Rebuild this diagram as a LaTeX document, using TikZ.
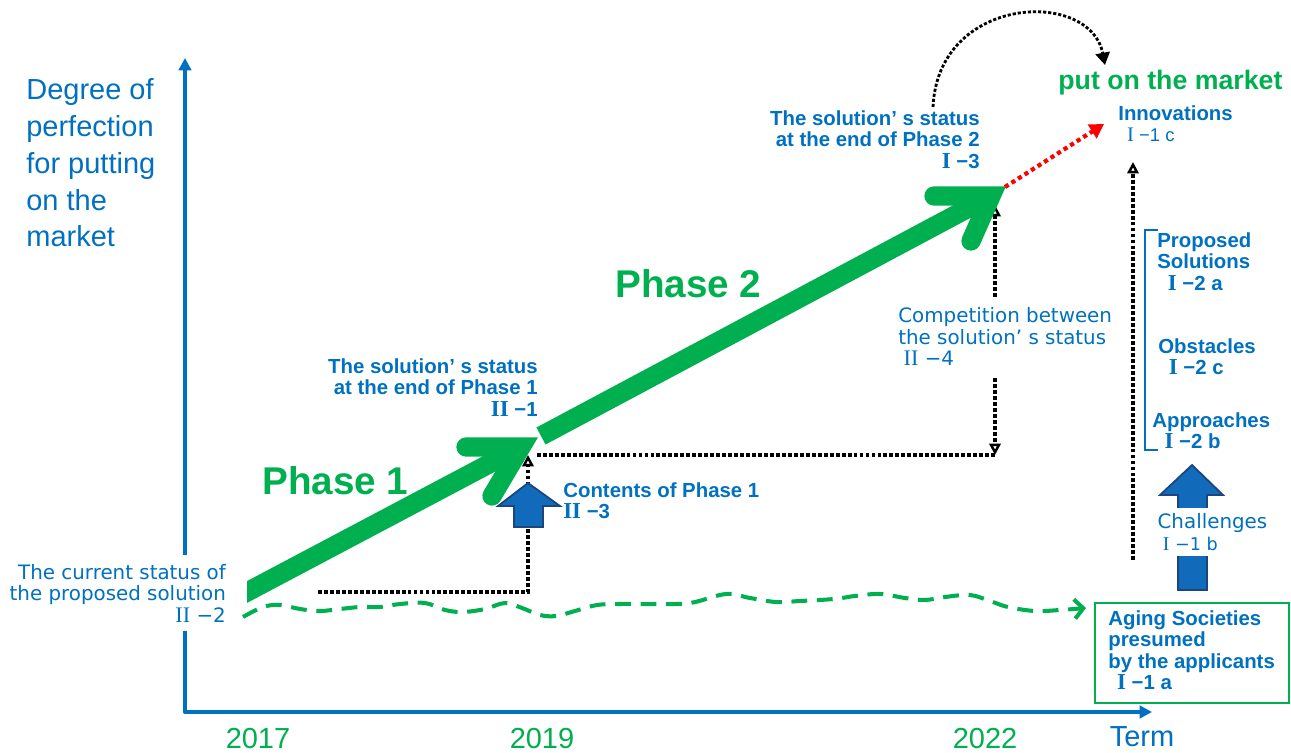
\documentclass[tikz,border=0pt]{standalone}
\usepackage{fontspec}
\setmainfont{Liberation Sans}
\newfontfamily\dvs{DejaVu Sans}
\newfontfamily\romf[Scale=1.12]{Liberation Serif}
\usetikzlibrary{arrows.meta}
\definecolor{cblue}{RGB}{0,112,192}
\definecolor{cgreen}{RGB}{0,176,80}
\definecolor{cfill}{RGB}{17,106,186}
\definecolor{cedge}{RGB}{25,70,125}
\newcommand\RI{{\romf I}}
\newcommand\RII{{\romf II}}
\begin{document}
\begin{tikzpicture}[x=0.02cm,y=-0.02cm,
  axis/.style={cblue, line width=2.4pt, line join=round},
  year/.style={text=cgreen, font=\fontsize{16.5}{18}\selectfont, inner sep=0pt},
  bl/.style={text=cblue, font=\bfseries\fontsize{11.6}{12.3}\selectfont, inner sep=0pt, align=left},
  rg/.style={text=cblue, font=\dvs\fontsize{11.3}{12.3}\selectfont, inner sep=0pt, align=left},
  phaselbl/.style={text=cgreen, font=\bfseries\fontsize{22}{24}\selectfont, inner sep=0pt},
  dots/.style={black, line width=1.9pt, dash pattern=on 2.2pt off 1.2pt},
  tipA/.style={-{Triangle[open,length=6.5pt,width=6.5pt,line width=1.4pt]}},
  wave/.style={cgreen, line width=2.3pt, dash pattern=on 9pt off 5.5pt, line cap=butt},
  shaft/.style={cgreen, line width=11pt},
  head/.style={cgreen, line width=11pt, line cap=round, line join=miter},
  reddots/.style={red, line width=2.4pt, dash pattern=on 2.4pt off 2pt, -{Triangle[length=8pt,width=9pt]}},
  blk/.style={fill=cfill, draw=cedge, line width=1pt, line join=miter}]
\useasboundingbox (0,0) rectangle (1291,753);

% axes
\coordinate (O) at (185,712);
\coordinate (ytop) at (185,58);
\coordinate (xend) at (1152,712);
\draw[axis, {Triangle[length=7pt,width=7pt]}-{Triangle[length=7pt,width=7pt]}] (ytop) -- (O) -- (xend);

\node[text=cblue, font=\fontsize{16.5}{21}\selectfont, inner sep=0pt, align=left, anchor=north west] (ylab) at (26,78)
  {Degree of\\perfection\\for putting\\on the\\market};

\node[year, anchor=base] (y2017) at (258,748) {2017};
\node[year, anchor=base] (y2019) at (542,748) {2019};
\node[year, anchor=base] (y2022) at (985,748) {2022};
\node[year, text=cblue, anchor=base] (term) at (1142,746) {Term};

% dotted connectors
\coordinate (a0) at (318,592);
\coordinate (a1) at (528,592);
\coordinate (a2) at (528,455);
\draw[dots, tipA] (a0) -- (a1) -- (a2);
\coordinate (b0) at (537,455);
\coordinate (b1) at (995,455);
\draw[dots] (b0) -- (b1);
\coordinate (c0) at (995,378);
\draw[dots, tipA] (c0) -- (b1);
\coordinate (d0) at (995,297);
\coordinate (d1) at (995,205);
\draw[dots, tipA] (d0) -- (d1);
\coordinate (e0) at (1133,560);
\coordinate (e1) at (1133,162);
\draw[dots, tipA] (e0) -- (e1);
\coordinate (f0) at (933,107);
\coordinate (f1) at (1105,65);
\draw[black, line width=1.6pt, dash pattern=on 1.8pt off 1.1pt, -{Triangle[length=7pt,width=8pt]}]
  (f0) .. controls (938,-5) and (1090,-12) .. (f1);

% green wavy dashed line
\draw[wave, -{Straight Barb[length=5pt,width=11pt]}] plot[smooth, tension=0.6] coordinates {
 (243,617) (263,607) (280,605) (300,609) (320,611) (340,609) (360,607) (380,607) (400,604)
 (425,603) (445,610) (463,612) (485,609) (505,603) (522,608) (540,615) (556,616) (575,611)
 (597,605) (620,604) (655,604) (690,603) (726,594) (750,598) (776,602) (800,601) (834,599)
 (855,596) (880,594) (905,598) (925,600) (945,597) (970,595) (990,601) (1008,607) (1035,611)
 (1060,610) (1086,608)};

% Phase 1 arrow
\coordinate (p1s) at (230,601);
\coordinate (p1v) at (521,447);
\coordinate (p1l) at (466,447);
\coordinate (p1d) at (492,496);
\begin{scope}
  \clip (247,0) rectangle (1291,753);
  \draw[shaft] (p1s) -- (p1v);
\end{scope}
\draw[head] (p1l) -- (p1v) -- (p1d);

% Phase 2 arrow
\coordinate (p2s) at (541,436);
\coordinate (p2v) at (991,196);
\coordinate (p2l) at (934,196);
\coordinate (p2d) at (971,241);
\draw[shaft] (p2s) -- (p2v);
\draw[head] (p2l) -- (p2v) -- (p2d);
\coordinate (p2tip) at (1005,187);
\coordinate (mk) at (1104,124);
\draw[reddots] (p2tip) -- (mk);

% blue block arrows
\draw[blk] (528,483) -- (560,506) -- (543,506) -- (543,527) -- (514,527) -- (514,506) -- (498,506) -- cycle;
\draw[blk] (1192,465) -- (1223,495) -- (1207,495) -- (1207,590) -- (1178,590) -- (1178,495) -- (1160,495) -- cycle;

% bracket and box
\draw[cblue, line width=1.1pt] (1158,230) -- (1145,230) -- (1145,450) -- (1158,450);
\draw[cgreen, line width=1.2pt] (1095,603) rectangle (1289,703);

% labels
\node[rg, align=right, fill=white, inner sep=5pt, anchor=north east] (cur) at (235,555)
  {The current status of\\the proposed solution\\\RII\ −2};
\node[bl, align=right, anchor=north east] (end1) at (538,358)
  {The solution’ s status\\at the end of Phase 1\\\RII\ −1};
\node[bl, anchor=north west] (cont) at (563,482) {Contents of Phase 1\\\RII\ −3};
\node[bl, align=right, anchor=north east] (end2) at (980,110)
  {The solution’ s status\\at the end of Phase 2\\\RI\ −3};
\node[rg, anchor=north west] (comp) at (898,307)
  {Competition between\\the solution’ s status\\\hspace*{3pt}\RII\ −4};
\node[phaselbl, anchor=base west] (ph1) at (262,494) {Phase 1};
\node[phaselbl, anchor=base west] (ph2) at (615,297) {Phase 2};
\node[text=cgreen, font=\bfseries\fontsize{15.2}{16}\selectfont, inner sep=0pt, anchor=base west] (mkt) at (1058,90) {put on the market};
\node[bl, anchor=north west] (innov) at (1118,105) {Innovations\\\hspace*{5pt}{\mdseries\fontsize{10.5}{13}\selectfont\RI\ −1 c}};
\node[bl, anchor=north west] (prop) at (1157,232) {Proposed\\Solutions\\\hspace*{6pt}\RI\ −2 a};
\node[bl, anchor=north west] (obst) at (1158,338) {Obstacles\\\hspace*{6pt}\RI\ −2 c};
\node[bl, anchor=north west] (appr) at (1152,412) {Approaches\\\hspace*{7pt}\RI\ −2 b};
\node[rg, fill=white, inner sep=3pt, anchor=north west] (chal) at (1152,508)
  {Challenges\\\hspace*{3pt}{\fontsize{10}{12}\selectfont\RI\ −1 b}};
\node[bl, anchor=north west] (age) at (1108,610) {Aging Societies\\presumed\\by the applicants\\\hspace*{5pt}\RI\ −1 a};
\end{tikzpicture}
\end{document}
